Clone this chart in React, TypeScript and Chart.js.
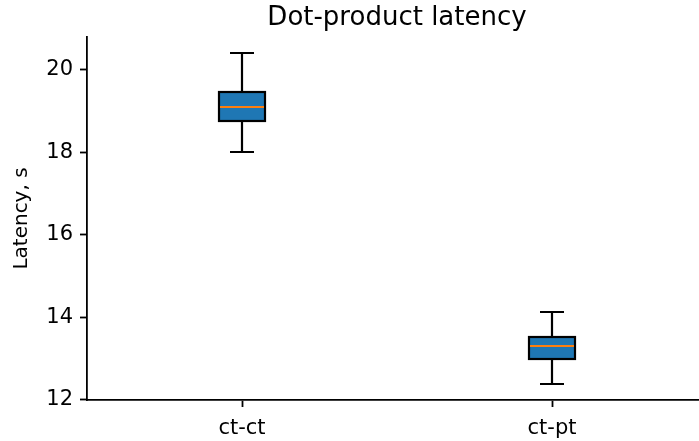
import React, { useEffect, useRef } from "react";
import { Chart, registerables } from "chart.js";

Chart.register(...registerables);

// Box-plot summary per configuration (seconds)
const categories = ["ct-ct", "ct-pt"];
const positions = [1, 2];
const whiskerLow = [18.0, 12.39];
const q1 = [18.77, 12.99];
const medians = [19.09, 13.29];
const q3 = [19.46, 13.52];
const whiskerHigh = [20.4, 14.13];
const yTicks = [12, 14, 16, 18, 20];

const FONT = "'DejaVu Sans', 'Liberation Sans', sans-serif";
const BOX_FILL = "#1f77b4";
const MEDIAN_COLOR = "#ff7f0e";
const BOX_WIDTH = 0.15;

const boxPlotPlugin = {
  id: "boxPlot",
  afterDatasetsDraw(chart: any) {
    const { ctx, scales } = chart;
    const xs = scales.x;
    const ys = scales.y;
    ctx.save();
    ctx.lineWidth = 2.2;
    ctx.strokeStyle = "#000";
    const r = (v: number) => Math.round(v);
    positions.forEach((p, i) => {
      const cx = r(xs.getPixelForValue(p));
      const left = r(xs.getPixelForValue(p - BOX_WIDTH / 2));
      const right = r(xs.getPixelForValue(p + BOX_WIDTH / 2));
      const capL = r(xs.getPixelForValue(p - BOX_WIDTH / 4));
      const capR = r(xs.getPixelForValue(p + BOX_WIDTH / 4));
      const yLo = r(ys.getPixelForValue(whiskerLow[i]));
      const yQ1 = r(ys.getPixelForValue(q1[i]));
      const yMed = r(ys.getPixelForValue(medians[i]));
      const yQ3 = r(ys.getPixelForValue(q3[i]));
      const yHi = r(ys.getPixelForValue(whiskerHigh[i]));

      // whiskers and caps
      ctx.beginPath();
      ctx.moveTo(cx, yQ1);
      ctx.lineTo(cx, yLo);
      ctx.moveTo(cx, yQ3);
      ctx.lineTo(cx, yHi);
      ctx.moveTo(capL, yLo);
      ctx.lineTo(capR, yLo);
      ctx.moveTo(capL, yHi);
      ctx.lineTo(capR, yHi);
      ctx.stroke();

      // box
      ctx.fillStyle = BOX_FILL;
      ctx.fillRect(left, yQ3, right - left, yQ1 - yQ3);
      ctx.strokeRect(left, yQ3, right - left, yQ1 - yQ3);

      // median
      ctx.beginPath();
      ctx.strokeStyle = MEDIAN_COLOR;
      ctx.lineWidth = 2;
      ctx.moveTo(left + 1, yMed);
      ctx.lineTo(right - 1, yMed);
      ctx.stroke();
      ctx.strokeStyle = "#000";
      ctx.lineWidth = 2.2;
    });

    // chart title centred over the axes
    const area = chart.chartArea;
    ctx.fillStyle = "#000";
    ctx.font = `26px ${FONT}`;
    ctx.textAlign = "center";
    ctx.textBaseline = "alphabetic";
    ctx.fillText("Dot-product latency", (area.left + area.right) / 2, 25);
    ctx.restore();
  },
};

export default function App() {
  const canvasRef = useRef<HTMLCanvasElement>(null);

  useEffect(() => {
    const canvas = canvasRef.current;
    if (!canvas) return;
    const chart = new Chart(canvas, {
      type: "scatter",
      data: {
        datasets: [
          {
            data: positions.map((p, i) => ({ x: p, y: medians[i] })),
            pointRadius: 0,
            pointHoverRadius: 0,
          },
        ],
      },
      options: {
        responsive: false,
        animation: false,
        events: [],
        layout: { padding: { top: 37, right: 13, left: 0, bottom: 0 } },
        plugins: {
          legend: { display: false },
          tooltip: { enabled: false },
          title: { display: false },
        },
        scales: {
          x: {
            type: "linear",
            min: 0.5,
            max: 2.5,
            afterBuildTicks: (scale: any) => {
              scale.ticks = positions.map((v) => ({ value: v }));
            },
            afterFit: (scale: any) => {
              scale.height = 41;
            },
            ticks: {
              autoSkip: false,
              maxRotation: 0,
              padding: 9,
              color: "#000",
              font: { family: FONT, size: 21 },
              callback: (v: any) => {
                const idx = positions.indexOf(Number(v));
                return idx >= 0 ? categories[idx] : "";
              },
            },
            grid: {
              drawOnChartArea: false,
              drawTicks: true,
              tickLength: 7,
              tickWidth: 1.8,
              tickColor: "#000",
            },
            border: { display: true, color: "#000", width: 1.8 },
          },
          y: {
            type: "linear",
            min: 11.99,
            max: 20.8,
            afterBuildTicks: (scale: any) => {
              scale.ticks = yTicks.map((v) => ({ value: v }));
            },
            afterFit: (scale: any) => {
              scale.width = 87;
            },
            ticks: {
              padding: 7,
              color: "#000",
              font: { family: FONT, size: 21 },
              callback: (v: any) => String(v),
            },
            title: {
              display: true,
              text: "Latency, s",
              color: "#000",
              font: { family: FONT, size: 20 },
              padding: { top: 10, bottom: 0 },
            },
            grid: {
              drawOnChartArea: false,
              drawTicks: true,
              tickLength: 7,
              tickWidth: 1.8,
              tickColor: "#000",
            },
            border: { display: true, color: "#000", width: 1.8 },
          },
        },
      },
      plugins: [boxPlotPlugin],
    });
    return () => chart.destroy();
  }, []);

  return (
    <div
      style={{
        position: "fixed",
        left: 0,
        top: 0,
        width: 699,
        height: 441,
        overflow: "hidden",
        background: "#fff",
      }}
    >
      <canvas
        ref={canvasRef}
        width={720}
        height={441}
        style={{ display: "block", width: 720, height: 441 }}
      />
    </div>
  );
}
